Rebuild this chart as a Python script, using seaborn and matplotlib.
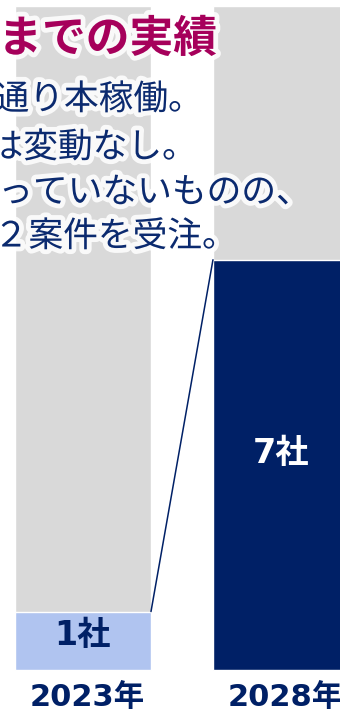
import matplotlib
matplotlib.use("Agg")
import matplotlib.pyplot as plt
import matplotlib.patheffects as pe
import seaborn as sns
import pandas as pd

# ---- data ----
years = ["2023年", "2028年"]
companies = [1, 7]
value_labels = ["1社", "7社"]
title_text = "期までの実績"
body_lines = ["通り本稼働。", "は変動なし。", "っていないものの、", "２案件を受注。"]

# ---- colours ----
GRAY = "#D9D9D9"
LIGHT = "#B0C4F0"
NAVY = "#002066"
TITLE_C = "#A6005B"
TEXT_C = "#0B2A6F"

sns.set_theme(style="white")
plt.rcParams["font.family"] = ["Noto Sans CJK JP", "DejaVu Sans"]

fig = plt.figure(figsize=(3.4, 7.13), dpi=100)
ax = fig.add_axes([0, 0, 1, 1])

W = 0.687
ymin, ymax = -0.73, 11.43
df = pd.DataFrame({"year": years, "n": companies})

# background columns
ax.bar([0, 1], [11.33, 11.33], width=W, color=GRAY, zorder=0)

sns.barplot(data=df, x="year", y="n", hue="year", palette=[LIGHT, NAVY],
            width=W, legend=False, ax=ax, zorder=2, saturation=1)

ax.set_xlim(-0.419, 1.298)
ax.set_ylim(ymin, ymax)
for s in ax.spines.values():
    s.set_visible(False)
ax.set_xticks([])
ax.set_yticks([])
ax.set_xlabel("")
ax.set_ylabel("")

# connector line
ax.plot([0 + W / 2, 1 - W / 2], [companies[0], companies[1]], color=NAVY, lw=1.1, zorder=3)

num_fam = ["DejaVu Sans", "Noto Sans CJK JP"]
# value labels
ax.text(0, 0.6, value_labels[0], ha="center", va="center",
        fontsize=24, fontweight="bold", color=NAVY, family=num_fam, zorder=4)
ax.text(1, companies[1] / 2 + 0.2, value_labels[1], ha="center", va="center",
        fontsize=24, fontweight="bold", color="white", family=num_fam, zorder=4)

# year labels
for i, y in enumerate(years):
    ax.text(i + 0.02, -0.46, y, ha="center", va="center", fontsize=22, fontweight="bold",
            color=NAVY, family=num_fam)

glow = [pe.withStroke(linewidth=7, foreground="white", alpha=0.85)]

# title (clipped at left edge, as in the reference)
fig.text(217 / 340, 1 - 39 / 713, title_text, ha="right", va="center", fontsize=31.5,
         fontweight="bold", color=TITLE_C, path_effects=glow)

# body text
rights = [203, 197, 311, 237]
ys = [100, 148, 193, 237]
for line, r, yy in zip(body_lines, rights, ys):
    fig.text(r / 340, 1 - yy / 713, line, ha="right", va="center", fontsize=25,
             color=TEXT_C, path_effects=glow)

fig.savefig("out.png", dpi=100)
